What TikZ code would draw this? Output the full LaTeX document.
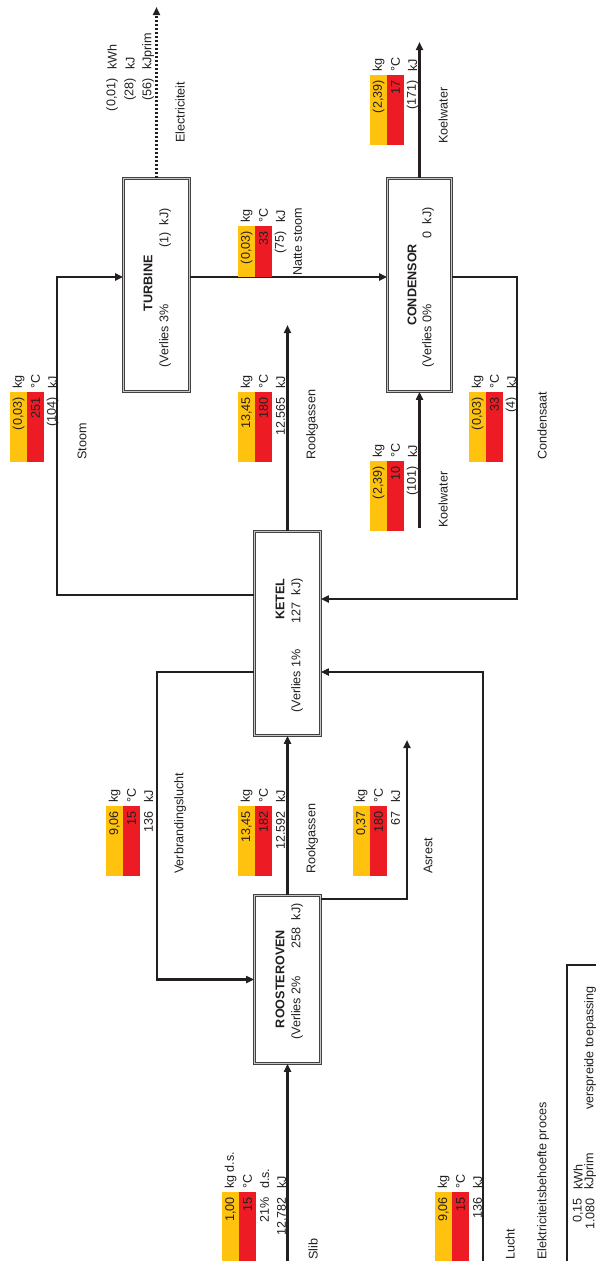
\documentclass[tikz,border=0pt]{standalone}
\usepackage{fontspec}
\setmainfont{Liberation Sans}
\usetikzlibrary{arrows.meta}
\definecolor{cGeel}{HTML}{FFC20E}
\definecolor{cRood}{HTML}{ED1C24}
\definecolor{cLijn}{HTML}{231F20}
\newcommand{\lbl}{\fontsize{12.6}{14}\selectfont}
\tikzset{
  proc/.style={rectangle, draw=cLijn!85, double=black!22, double distance=1.2pt,
    line width=1pt, inner sep=0pt},
  flow/.style={-{Triangle[length=8pt,width=7pt]}, line width=2.1pt, draw=cLijn},
  eflow/.style={flow, dash pattern=on 2pt off 2pt},
  txt/.style={rotate=90, inner sep=0pt, font=\lbl, text=cLijn},
  titel/.style={txt, font=\lbl\bfseries},
  getal/.style={txt, anchor=east},
  eenheid/.style={txt, anchor=west},
}
% yellow/red bars of a stream label
\newcommand{\balk}[3]{%
  \fill[cGeel] (#1,#2) rectangle (#1+17,#3);
  \fill[cRood] (#1+17,#2) rectangle (#1+34,#3);
}
% one row of a stream label: name, x, top of bar, number, unit
\newcommand{\rij}[5]{%
  \node[getal] (#1g) at (#2,#3+5) {#4};
  \node[eenheid] (#1e) at (#2,#3-3) {#5};
}

\begin{document}
\begin{tikzpicture}[x=1pt, y=-1pt]
  \useasboundingbox (0,0) rectangle (596,1261);
  \clip (0,0) rectangle (596,1261);

  % Processes
  \node[proc, minimum width=65.8pt, minimum height=212.8pt] (turb) at (156.5,285) {};
  \node[proc, minimum width=63.8pt, minimum height=212.8pt] (cond) at (419.5,285) {};
  \node[proc, minimum width=65.8pt, minimum height=203.8pt] (ketel) at (287.5,633.5) {};
  \node[proc, minimum width=65.8pt, minimum height=167.8pt] (roost) at (287.5,979.5) {};

  \node[titel] (turbT) at (148,283) {TURBINE};
  \node[txt, anchor=west] (turbV) at (165,368) {(Verlies 3\%};
  \node[txt, anchor=east] (turbK) at (165,208) {(1)~~kJ)};
  \node[titel] (condT) at (412,285) {CONDENSOR};
  \node[txt, anchor=west] (condV) at (428,368) {(Verlies 0\%};
  \node[txt, anchor=east] (condK) at (428,207) {0~~kJ)};
  \node[titel] (ketelT) at (280,599) {KETEL};
  \node[txt, anchor=west] (ketelV) at (297,713) {(Verlies 1\%};
  \node[txt, anchor=east] (ketelK) at (297,578) {127~~kJ)};
  \node[titel] (roostT) at (280,979) {ROOSTEROVEN};
  \node[txt, anchor=west] (roostV) at (297,1040) {(Verlies 2\%};
  \node[txt, anchor=east] (roostK) at (297,903) {258~~kJ)};

  % Free ends and bends
  \coordinate (slibin) at (287.5,1262);
  \coordinate (luchtin) at (483,1262);
  \coordinate (rookuit) at (287.5,325);
  \coordinate (asuit) at (407,740);
  \coordinate (vlbocht) at (157,979.5);
  \coordinate (stbocht) at (57,277);
  \coordinate (cdbocht) at (517,599);
  \coordinate (koelin) at (419.5,528);
  \coordinate (koeluit) at (419.5,42);
  \coordinate (elecuit) at (156.5,7);

  % Streams
  \draw[flow] (slibin) -- (roost.south);
  \draw[flow] (roost.north) -- (ketel.south);
  \draw[flow] (ketel.north) -- (rookuit);
  \draw[flow] ([yshift=-4pt]roost.north east) -| (asuit);
  \draw[flow] (luchtin) |- ([yshift=-38.5pt]ketel.east);
  \draw[flow] ([yshift=-38.5pt]ketel.west) -| (vlbocht) -- (roost.west);
  \draw[flow] ([yshift=38.5pt]ketel.west) -| (stbocht) -- ([yshift=8pt]turb.west);
  \draw[flow] ([yshift=8pt]turb.east) -- ([yshift=8pt]cond.west);
  \draw[flow] ([yshift=8pt]cond.east) -| (cdbocht) -- ([yshift=34.5pt]ketel.east);
  \draw[flow] (koelin) -- (cond.south);
  \draw[flow] (cond.north) -- (koeluit);
  \draw[eflow] (turb.north) -- (elecuit);

  % Slib
  \balk{222}{1192}{1265}
  \rij{slA}{230.5}{1192}{1,00}{kg d.s.}
  \rij{slB}{247.5}{1192}{15}{°C}
  \rij{slC}{264.5}{1192}{21\%}{d.s.}
  \rij{slD}{281.5}{1192}{12.782}{kJ}
  \node[eenheid] (slib) at (313,1260) {Slib};

  % Lucht
  \balk{435}{1192}{1265}
  \rij{luA}{443.5}{1192}{9,06}{kg}
  \rij{luB}{460.5}{1192}{15}{°C}
  \rij{luC}{477.5}{1192}{136}{kJ}
  \node[eenheid] (lucht) at (510,1260) {Lucht};

  % Verbrandingslucht
  \balk{106}{806}{876}
  \rij{vlA}{114.5}{806}{9,06}{kg}
  \rij{vlB}{131.5}{806}{15}{°C}
  \rij{vlC}{148.5}{806}{136}{kJ}
  \node[eenheid] (verbr) at (180,874) {Verbrandingslucht};

  % Rookgassen uit roosteroven
  \balk{238}{806}{876}
  \rij{r1A}{246.5}{806}{13,45}{kg}
  \rij{r1B}{263.5}{806}{182}{°C}
  \rij{r1C}{280.5}{806}{12.592}{kJ}
  \node[eenheid] (rook1) at (312,874) {Rookgassen};

  % Asrest
  \balk{353}{806}{876}
  \rij{asA}{361.5}{806}{0,37}{kg}
  \rij{asB}{378.5}{806}{180}{°C}
  \rij{asC}{395.5}{806}{67}{kJ}
  \node[eenheid] (asrest) at (428,874) {Asrest};

  % Stoom
  \balk{10}{392}{462}
  \rij{stA}{18.5}{392}{(0,03)}{kg}
  \rij{stB}{35.5}{392}{251}{°C}
  \rij{stC}{52.5}{392}{(104)}{kJ}
  \node[eenheid] (stoom) at (82,460) {Stoom};

  % Rookgassen uit ketel
  \balk{238}{392}{462}
  \rij{r2A}{246.5}{392}{13,45}{kg}
  \rij{r2B}{263.5}{392}{180}{°C}
  \rij{r2C}{280.5}{392}{12.565}{kJ}
  \node[eenheid] (rook2) at (312,460) {Rookgassen};

  % Natte stoom
  \balk{238}{226}{277}
  \rij{nsA}{246.5}{226}{(0,03)}{kg}
  \rij{nsB}{263.5}{226}{33}{°C}
  \rij{nsC}{280.5}{226}{(75)}{kJ}
  \node[eenheid] (natst) at (297.5,276) {Natte stoom};

  % Koelwater in
  \balk{370}{461}{531}
  \rij{kiA}{378.5}{461}{(2,39)}{kg}
  \rij{kiB}{395.5}{461}{10}{°C}
  \rij{kiC}{412.5}{461}{(101)}{kJ}
  \node[eenheid] (koelw1) at (443,528) {Koelwater};

  % Condensaat
  \balk{469}{392}{462}
  \rij{cdA}{477.5}{392}{(0,03)}{kg}
  \rij{cdB}{494.5}{392}{33}{°C}
  \rij{cdC}{511.5}{392}{(4)}{kJ}
  \node[eenheid] (conds) at (542,460) {Condensaat};

  % Koelwater uit
  \balk{370}{75}{145}
  \rij{koA}{378.5}{75}{(2,39)}{kg}
  \rij{koB}{395.5}{75}{17}{°C}
  \rij{koC}{412.5}{75}{(171)}{kJ}
  \node[eenheid] (koelw2) at (443,144) {Koelwater};

  % Electriciteit
  \rij{elA}{112}{73}{(0,01)}{kWh}
  \rij{elB}{130}{73}{(28)}{kJ}
  \rij{elC}{148}{73}{(56)}{kJprim}
  \node[eenheid] (elec) at (180,143) {Electriciteit};

  % Elektriciteitsbehoefte
  \node[eenheid] (behoefte) at (543,1260) {Elektriciteitsbehoefte proces};
  \draw[line width=1.4pt, draw=cLijn] (567,965) rectangle (620,1290);
  \rij{lgA}{578}{1193}{0,15}{kWh}
  \rij{lgB}{590}{1193}{1.080}{kJprim}
  \node[eenheid] (toepas) at (590,1110) {verspreide toepassing};
\end{tikzpicture}
\end{document}
